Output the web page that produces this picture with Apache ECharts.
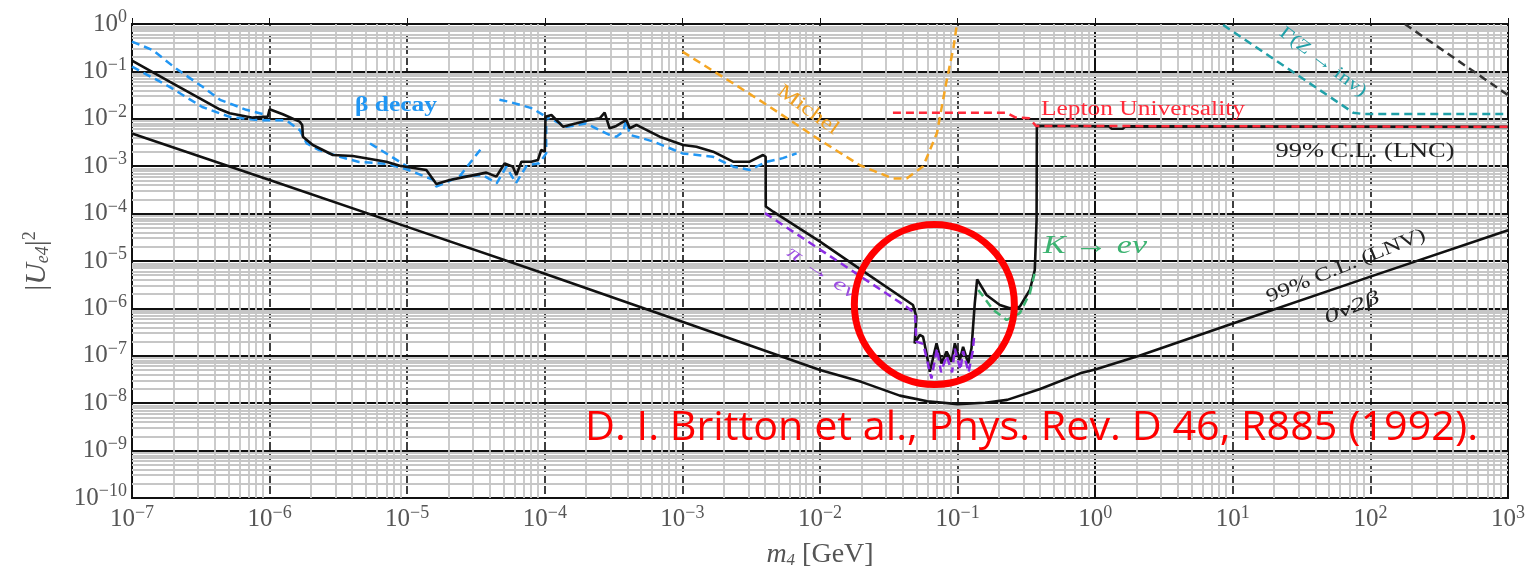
<!DOCTYPE html>
<html>
<head>
<meta charset="utf-8">
<script src="https://cdn.jsdelivr.net/npm/echarts@6/dist/echarts.min.js"></script>
<style>
html, body { margin: 0; padding: 0; background: #fff; }
#chart { width: 1532px; height: 576px; }
</style>
</head>
<body>
<div id="chart"></div>
<script>
// the figure is log-log: every curve is stored as [log10(m4 / GeV), log10(|Ue4|^2)]
const lncLimit = [
  [-7.0, -0.774], [-6.727, -1.217], [-6.363, -1.80], [-6.29, -1.884], [-6.122, -1.976], [-6.013, -1.955],
  [-6.0, -1.80], [-5.904, -1.905], [-5.782, -2.06], [-5.763, -2.13], [-5.758, -2.377], [-5.686, -2.553],
  [-5.54, -2.764], [-5.395, -2.785], [-5.152, -2.905], [-5.055, -2.99], [-4.861, -3.08], [-4.788, -3.376],
  [-4.69, -3.29], [-4.57, -3.22], [-4.425, -3.136], [-4.352, -3.22], [-4.292, -2.94], [-4.232, -3.01],
  [-4.207, -3.186], [-4.17, -2.905], [-4.098, -2.905], [-4.05, -2.87], [-4.026, -2.658], [-4.0, -2.694],
  [-3.995, -1.955], [-3.952, -1.92], [-3.868, -2.166], [-3.77, -2.095], [-3.674, -2.025], [-3.601, -1.99],
  [-3.565, -1.871], [-3.529, -2.2], [-3.48, -2.15], [-3.407, -2.025], [-3.383, -2.2], [-3.334, -2.13],
  [-3.165, -2.377], [-2.995, -2.553], [-2.898, -2.588], [-2.777, -2.694], [-2.632, -2.905], [-2.511, -2.905],
  [-2.414, -2.764], [-2.395, -2.80], [-2.394, -3.85], [-2.34, -3.96], [-2.0, -4.59], [-1.735, -5.12],
  [-1.324, -5.928], [-1.3, -6.175], [-1.312, -6.736], [-1.275, -6.561], [-1.251, -6.597], [-1.226, -6.947],
  [-1.202, -7.335], [-1.153, -6.736], [-1.117, -7.16], [-1.08, -6.91], [-1.044, -7.124], [-1.02, -6.736],
  [-0.984, -7.09], [-0.96, -6.81], [-0.923, -7.158], [-0.899, -6.842], [-0.875, -5.89], [-0.858, -5.386],
  [-0.79, -5.717], [-0.693, -5.928], [-0.62, -5.998], [-0.548, -5.964], [-0.475, -5.612], [-0.439, -5.19],
  [-0.426, -4.135], [-0.424, -2.15], [0.10, -2.16], [0.12, -2.21], [0.20, -2.21], [0.22, -2.16], [3.0, -2.17]
]
const lnvLimit = [
  [-7, -2.31], [-6, -3.29], [-5, -4.28], [-4, -5.27], [-3, -6.28], [-2, -7.30], [-1.7, -7.55],
  [-1.42, -7.84], [-1.22, -7.96], [-1.0, -8.02], [-0.8, -7.99], [-0.64, -7.93], [-0.4, -7.7],
  [-0.11, -7.37], [0, -7.29], [0.32, -7.0], [1, -6.32], [2, -5.33], [3, -4.35]
]
const betaUpper = [
  [-7, -0.37], [-6.85, -0.55], [-6.68, -0.94], [-6.49, -1.32], [-6.36, -1.60], [-6.17, -1.81], [-6.02, -1.92]
]
const betaMain = [
  [-7, -0.9], [-6.73, -1.32], [-6.49, -1.75], [-6.29, -1.96], [-6.07, -2.03], [-5.88, -2.03], [-5.78, -2.24],
  [-5.73, -2.52], [-5.64, -2.66], [-5.49, -2.80], [-5.35, -2.91], [-5.15, -2.95], [-5.0, -3.07], [-4.81, -3.29],
  [-4.79, -3.43], [-4.62, -3.22], [-4.45, -3.19], [-4.35, -3.36], [-4.28, -3.01], [-4.21, -3.36], [-4.13, -2.98],
  [-4.04, -2.94], [-3.99, -2.73], [-3.99, -1.96], [-3.84, -2.17], [-3.70, -2.10], [-3.53, -2.34], [-3.48, -2.38],
  [-3.43, -2.27], [-3.41, -2.03], [-3.38, -2.34], [-3.21, -2.48], [-3.0, -2.73], [-2.78, -2.80], [-2.63, -3.01],
  [-2.51, -3.08], [-2.39, -2.91], [-2.27, -2.83], [-2.17, -2.73]
]
const betaStep = [[-5.27, -2.52], [-4.98, -3.04]]
const betaRise = [[-4.62, -3.22], [-4.46, -2.62]]
const betaHump = [[-4.33, -1.60], [-4.26, -1.64], [-4.09, -1.78], [-3.99, -1.96]]
const michel = [
  [-3.0, -0.584], [-2.632, -1.251], [-2.39, -1.70], [-2.0, -2.45], [-1.71, -2.98], [-1.47, -3.26],
  [-1.37, -3.26], [-1.25, -3.0], [-1.15, -2.3], [-1.08, -1.2], [-1.03, -0.5], [-1.005, 0.0]
]
const leptonUniv = [[-1.47, -1.87], [-0.65, -1.87], [-0.58, -1.97], [-0.48, -1.99], [-0.43, -2.15], [3, -2.17]]
const zInvisible = [[0.93, -0.02], [1.875, -1.87], [1.95, -1.9], [3, -1.9]]
const piToEnu = [
  [-2.40, -3.99], [-1.372, -5.964], [-1.31, -6.10], [-1.30, -6.7], [-1.25, -6.75], [-1.19, -7.48],
  [-1.15, -6.85], [-1.12, -7.35], [-1.08, -7.0], [-1.04, -7.35], [-1.02, -6.85], [-0.98, -7.3],
  [-0.96, -6.9], [-0.92, -7.35], [-0.89, -6.9], [-0.88, -6.6]
]
const kToEnu = [[-0.85, -5.61], [-0.742, -6.03], [-0.644, -6.245], [-0.548, -6.10], [-0.475, -5.68], [-0.44, -5.26]]
const topRight = [[2.25, 0], [3, -1.5]]

// decade exponents for ticks, and the 2..9 mantissas for the light log grid
const xDecades = [-7, -6, -5, -4, -3, -2, -1, 0, 1, 2]
const yDecades = [-10, -9, -8, -7, -6, -5, -4, -3, -2, -1]
const minorDigits = [2, 3, 4, 5, 6, 7, 8, 9]

const serif = '"Liberation Serif", "DejaVu Serif", serif'
const tickGray = '#555'

const supLabel = (e) => {
  const k = Math.round(e)
  return '{b|10}{s|' + (k < 0 ? '\u2212' + -k : k) + '}'
}
const tickRich = {
  b: { fontFamily: serif, fontSize: 25, color: tickGray },
  s: { fontFamily: serif, fontSize: 18, color: tickGray, padding: [0, 0, 13, 0] }
}

const minorX = []
xDecades.forEach((k) => minorDigits.forEach((d) => minorX.push({ xAxis: k + Math.log10(d) })))
const minorY = []
yDecades.forEach((k) => minorDigits.forEach((d) => minorY.push({ yAxis: k + Math.log10(d) })))

const dashed = (name, data, color, z) => ({
  name, type: 'line', data, showSymbol: false, z: z || 4,
  lineStyle: { color, width: 2.5, type: [8, 5] }
})
const solid = (name, data, z) => ({
  name, type: 'line', data, showSymbol: false, z: z || 5,
  lineStyle: { color: '#111', width: 2.6 }
})

const chart = echarts.init(document.getElementById('chart'))

const option = {
  animation: false,
  grid: { left: 132, right: 24, top: 24, bottom: 78, show: true, borderColor: '#111', borderWidth: 2 },
  xAxis: {
    type: 'value', min: -7, max: 3, interval: 1,
    axisLine: { lineStyle: { color: '#111', width: 2 } },
    axisTick: { inside: true, length: 6, lineStyle: { color: '#111' } },
    axisLabel: { formatter: supLabel, rich: tickRich, margin: 6, showMinLabel: true, showMaxLabel: true },
    splitLine: { show: true, lineStyle: { color: '#111', width: 1.6, type: [8, 3] } },
    name: '{i|m}{sub|4} [GeV]', nameLocation: 'middle', nameGap: 42,
    nameTextStyle: {
      fontFamily: serif, fontSize: 28, color: tickGray,
      rich: {
        i: { fontFamily: serif, fontStyle: 'italic', fontSize: 28, color: tickGray },
        sub: { fontFamily: serif, fontStyle: 'italic', fontSize: 17, color: tickGray, padding: [12, 0, 0, 0] }
      }
    }
  },
  yAxis: {
    type: 'value', min: -10, max: 0, interval: 1,
    axisLine: { lineStyle: { color: '#111', width: 2 } },
    axisTick: { inside: true, length: 6, lineStyle: { color: '#111' } },
    axisLabel: { formatter: supLabel, rich: tickRich, margin: 5, showMinLabel: true, showMaxLabel: true },
    splitLine: { show: true, lineStyle: { color: '#111', width: 1.8 } },
    name: '|{u|U}{sub|e4}|{sup|2}', nameLocation: 'middle', nameGap: 78, nameRotate: 90,
    nameTextStyle: {
      fontFamily: serif, fontSize: 30, color: tickGray,
      rich: {
        u: { fontFamily: serif, fontStyle: 'italic', fontSize: 30, color: tickGray },
        sub: { fontFamily: serif, fontStyle: 'italic', fontSize: 18, color: tickGray, padding: [12, 0, 0, 0] },
        sup: { fontFamily: serif, fontSize: 18, color: tickGray, padding: [0, 0, 15, 0] }
      }
    }
  },
  series: [
    {
      name: 'minor grid', type: 'line', data: [], z: 1, silent: true,
      markLine: {
        silent: true, symbol: ['none', 'none'], z: 1, animation: false,
        label: { show: false },
        lineStyle: { color: '#c6c6c6', width: 1.8, type: 'solid' },
        data: minorX.concat(minorY)
      }
    },
    solid('0v2b', lnvLimit),
    dashed('beta upper', betaUpper, '#2196f3'),
    dashed('beta main', betaMain, '#2196f3'),
    dashed('beta step', betaStep, '#2196f3'),
    dashed('beta rise', betaRise, '#2196f3'),
    dashed('beta hump', betaHump, '#2196f3'),
    solid('LNC', lncLimit),
    dashed('pi -> e nu', piToEnu, '#8a2be2', 6),
    dashed('K -> e nu', kToEnu, '#3cb371', 6),
    dashed('Michel', michel, '#f5a623', 6),
    dashed('Z inv', zInvisible, '#20a0a8', 6),
    dashed('Lepton Universality', leptonUniv, '#ff2a3a', 7),
    dashed('top right', topRight, '#333', 6)
  ]
}

chart.setOption(option)

// annotation texts, stretched to the widths they take in the original (its font is wider)
const ctx = document.createElement('canvas').getContext('2d')
const deg = Math.PI / 180
const note = (text, x, y, width, color, size, rot, extra) => {
  const st = Object.assign({ fontStyle: 'normal', fontWeight: 'normal' }, extra || {})
  ctx.font = st.fontStyle + ' ' + st.fontWeight + ' ' + size + 'px "Liberation Serif"'
  return {
    type: 'text', x, y, rotation: (rot || 0) * deg, z: 20,
    scaleX: width / ctx.measureText(text).width,
    style: Object.assign({
      text, fill: color, fontFamily: serif, fontSize: size,
      align: 'center', verticalAlign: 'middle'
    }, st)
  }
}

const citation = 'D. I. Britton et al., Phys. Rev. D 46, R885 (1992).'
ctx.font = '40px "Open Sans"'
const citeScale = 893 / ctx.measureText(citation).width

const circleC = chart.convertToPixel({ gridIndex: 0 }, [-1.169, -5.918])

chart.setOption({
  graphic: [
    note('\u03b2 decay', 396, 106, 82, '#2196f3', 20, 0, { fontWeight: 'bold' }),
    note('Michel', 808, 110, 71, '#f0a020', 20, -36),
    note('\u03c0 \u2192 e\u03bd', 822, 273, 80, '#9b4de0', 19, -34, { fontStyle: 'italic' }),
    note('K \u2192 e\u03bd', 1095, 246, 104, '#3cb371', 26, 0, { fontStyle: 'italic' }),
    note('Lepton Universality', 1143, 110, 204, '#ff2a3a', 20),
    note('\u0393(Z \u2192 inv)', 1323, 62, 104, '#20a0a8', 18, -37),
    note('99% C.L. (LNC)', 1365, 151, 179, '#222', 21),
    note('99% C.L. (LNV)', 1346, 266, 170, '#222', 19, 22),
    note('0\u03bd2\u03b2', 1352, 308, 58, '#222', 19, 22, { fontStyle: 'italic' }),
    {
      type: 'circle', z: 30, silent: true,
      shape: { cx: circleC[0], cy: circleC[1], r: 80 },
      style: { fill: 'none', stroke: '#ff0000', lineWidth: 7 }
    },
    {
      type: 'text', x: 585, y: 429, scaleX: citeScale, z: 31,
      style: {
        text: citation, fill: '#ff0000', fontFamily: '"Open Sans", sans-serif', fontSize: 40,
        align: 'left', verticalAlign: 'middle'
      }
    }
  ]
})
</script>
</body>
</html>
